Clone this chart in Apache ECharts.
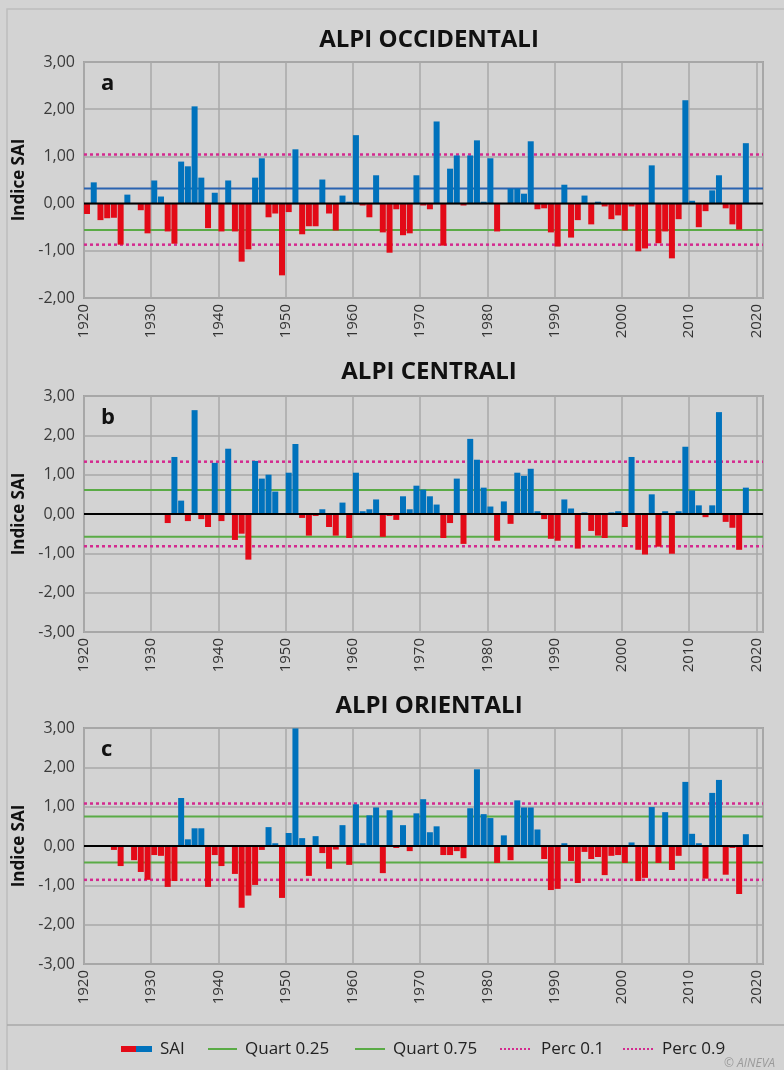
<!DOCTYPE html>
<html><head><meta charset="utf-8">
<script src="https://cdn.jsdelivr.net/npm/echarts@6/dist/echarts.min.js"></script>
<style>html,body{margin:0;padding:0;background:#d3d3d3}#c{width:784px;height:1070px}</style>
</head><body><div id="c"></div>
<script>
// seasons (start year of each bar)
const years = [1920,1921,1922,1923,1924,1925,1926,1927,1928,1929,
1930,1931,1932,1933,1934,1935,1936,1937,1938,1939,
1940,1941,1942,1943,1944,1945,1946,1947,1948,1949,
1950,1951,1952,1953,1954,1955,1956,1957,1958,1959,
1960,1961,1962,1963,1964,1965,1966,1967,1968,1969,
1970,1971,1972,1973,1974,1975,1976,1977,1978,1979,
1980,1981,1982,1983,1984,1985,1986,1987,1988,1989,
1990,1991,1992,1993,1994,1995,1996,1997,1998,1999,
2000,2001,2002,2003,2004,2005,2006,2007,2008,2009,
2010,2011,2012,2013,2014,2015,2016,2017,2018];

const saiOccidentali = [-0.22,0.45,-0.35,-0.31,-0.30,-0.87,0.19,0,-0.14,-0.63,
0.49,0.15,-0.59,-0.85,0.89,0.79,2.06,0.55,-0.52,0.23,
-0.59,0.49,-0.59,-1.23,-0.97,0.55,0.96,-0.29,-0.21,-1.52,
-0.18,1.15,-0.65,-0.48,-0.48,0.51,-0.21,-0.57,0.17,0.04,
1.45,-0.04,-0.29,0.60,-0.61,-1.04,-0.12,-0.67,-0.63,0.60,
-0.04,-0.12,1.74,-0.89,0.74,1.02,-0.04,1.02,1.34,0.04,
0.96,-0.59,0,0.32,0.32,0.21,1.32,-0.12,-0.10,-0.61,
-0.91,0.40,-0.72,-0.35,0.17,-0.44,0.04,-0.06,-0.33,-0.25,
-0.57,-0.06,-1.01,-0.95,0.81,-0.84,-0.59,-1.16,-0.33,2.19,
0.06,-0.50,-0.16,0.28,0.60,-0.10,-0.44,-0.55,1.28];

const saiCentrali = [null,null,null,null,null,null,null,null,null,null,
null,null,-0.23,1.45,0.34,-0.18,2.64,-0.13,-0.33,1.30,
-0.18,1.66,-0.66,-0.50,-1.16,1.35,0.90,1.00,0.57,-0.02,
1.05,1.78,-0.10,-0.55,-0.05,0.12,-0.33,-0.55,0.29,-0.61,
1.05,0.07,0.12,0.37,-0.58,-0.05,-0.15,0.45,0.12,0.72,
0.62,0.45,0.24,-0.61,-0.23,0.90,-0.76,1.91,1.38,0.67,
0.19,-0.68,0.32,-0.25,1.05,0.97,1.15,0.07,-0.13,-0.63,
-0.68,0.37,0.14,-0.88,0.04,-0.43,-0.55,-0.61,0.04,0.07,
-0.33,1.45,-0.91,-1.03,0.50,-0.83,0.07,-1.01,0.07,1.71,
0.60,0.22,-0.08,0.22,2.59,-0.20,-0.35,-0.91,0.67];

const saiOrientali = [null,null,null,null,-0.10,-0.51,0,-0.36,-0.66,-0.86,
-0.23,-0.25,-1.04,-0.89,1.22,0.17,0.45,0.45,-1.04,-0.23,
-0.51,0,-0.71,-1.57,-1.26,-0.99,-0.10,0.48,0.07,-1.32,
0.33,2.99,0.20,-0.76,0.25,-0.18,-0.58,-0.09,0.53,-0.48,
1.06,0.07,0.78,0.98,-0.69,0.91,-0.05,0.53,-0.13,0.83,
1.19,0.35,0.50,-0.23,-0.23,-0.13,-0.31,0.96,1.95,0.81,
0.71,-0.43,0.27,-0.36,1.16,0.98,0.98,0.42,-0.33,-1.12,
-1.09,0.07,-0.38,-0.94,-0.15,-0.33,-0.28,-0.74,-0.25,-0.23,
-0.43,0.09,-0.89,-0.81,0.99,-0.43,0.86,-0.61,-0.25,1.63,
0.31,0.07,-0.83,1.35,1.68,-0.73,-0.05,-1.22,0.30];

// reference levels: Quart 0.25, Quart 0.75, Perc 0.1, Perc 0.9
const refNames = ['Quart 0.25','Quart 0.75','Perc 0.1','Perc 0.9'];
const refOccidentali = [-0.56, 0.32, -0.87, 1.04];
const refCentrali = [-0.58, 0.61, -0.82, 1.33];
const refOrientali = [-0.42, 0.75, -0.86, 1.08];

const panelTitles = ['ALPI OCCIDENTALI','ALPI CENTRALI','ALPI ORIENTALI'];
const panelLetters = ['a','b','c'];
const yMins = [-2,-3,-3];
const yMaxs = [3,3,3];

const RED = '#e30a17', BLUE = '#0072bc', GREEN = '#5aab46', MAG = '#d42a8f';
const FONT = '"Open Sans", "Noto Sans", sans-serif';

const layout = [
  {top:62, h:236, titleTop:23, q75:'#2a63b0'},
  {top:396, h:236, titleTop:355, q75:GREEN},
  {top:728, h:236, titleTop:689, q75:GREEN}
];
const datasets = [saiOccidentali, saiCentrali, saiOrientali];
const refs = [refOccidentali, refCentrali, refOrientali];

const grid = [], xAxis = [], yAxis = [], series = [], title = [];
const fmt = v => v.toFixed(2).replace('.', ',');

layout.forEach((L, i) => {
  grid.push({left:84, right:21, top:L.top, height:L.h, show:true, borderColor:'#a2a2a2', borderWidth:2, backgroundColor:'transparent'});
  xAxis.push({type:'value', gridIndex:i, min:1920, max:2021, interval:10,
    axisLine:{show:false}, axisTick:{show:false},
    splitLine:{show:true, lineStyle:{color:'#a8a8a8', width:1.5}},
    axisLabel:{rotate:90, margin:6, showMaxLabel:false, color:'#333', fontSize:15, fontFamily:FONT,
      formatter: v => (v % 10 === 0 ? String(v) : '')}
  });
  yAxis.push({type:'value', gridIndex:i, min:yMins[i], max:yMaxs[i], interval:1,
    name:'Indice SAI', nameLocation:'middle', nameGap:47, nameRotate:90,
    nameTextStyle:{fontSize:17, fontWeight:'bold', color:'#111', fontFamily:FONT},
    axisLine:{show:false}, axisTick:{show:false},
    splitLine:{show:true, lineStyle:{color:'#a8a8a8', width:1.5}},
    axisLabel:{margin:9, color:'#3a3a3a', fontSize:16, fontFamily:FONT, formatter: fmt}
  });
  const r = refs[i];
  const refStyles = [
    {color:GREEN, width:2, type:'solid'},
    {color:L.q75, width:2, type:'solid'},
    {color:MAG, width:2.5, type:[3,3]},
    {color:MAG, width:2.5, type:[3,3]}
  ];
  r.forEach((v, j) => {
    series.push({type:'line', name:refNames[j], xAxisIndex:i, yAxisIndex:i, z:1,
      symbol:'none', silent:true, animation:false,
      lineStyle:refStyles[j], data:[[1920, v],[2021, v]]});
  });
  const d = [];
  datasets[i].forEach((v, j) => { if (v !== null) d.push([years[j] + 0.45, v]); });
  series.push({type:'bar', name:'SAI', xAxisIndex:i, yAxisIndex:i, z:3, barWidth:6, animation:false,
    itemStyle:{color: p => (p.value[1] >= 0 ? BLUE : RED)}, data:d});
  series.push({type:'line', xAxisIndex:i, yAxisIndex:i, z:5, symbol:'none', silent:true, animation:false,
    lineStyle:{color:'#000', width:2}, data:[[1920,0],[2021,0]]});
  title.push({text:panelTitles[i], left:424, top:L.titleTop, textAlign:'center',
    textStyle:{fontSize:24, fontWeight:'bold', color:'#111', fontFamily:FONT}});
  title.push({text:panelLetters[i], left:96, top:L.top + 6,
    textStyle:{fontSize:22, fontWeight:'bold', color:'#111', fontFamily:FONT}});
});

const ly = 1049;
const TS = {fontSize:17, fontFamily:FONT, fill:'#222', verticalAlign:'middle'};
const legendItems = [
  {type:'rect', shape:{x:121, y:ly-3, width:15, height:6}, style:{fill:RED}},
  {type:'rect', shape:{x:136, y:ly-3, width:16, height:6}, style:{fill:BLUE}},
  {type:'text', x:160, y:ly, style:Object.assign({text:'SAI'}, TS)},
  {type:'line', shape:{x1:208, y1:ly, x2:237, y2:ly}, style:{stroke:GREEN, lineWidth:2}},
  {type:'text', x:245, y:ly, style:Object.assign({text:refNames[0]}, TS)},
  {type:'line', shape:{x1:355, y1:ly, x2:385, y2:ly}, style:{stroke:GREEN, lineWidth:2}},
  {type:'text', x:393, y:ly, style:Object.assign({text:refNames[1]}, TS)},
  {type:'line', shape:{x1:500, y1:ly, x2:531, y2:ly}, style:{stroke:MAG, lineWidth:2, lineDash:[2,2]}},
  {type:'text', x:541, y:ly, style:Object.assign({text:refNames[2]}, TS)},
  {type:'line', shape:{x1:623, y1:ly, x2:653, y2:ly}, style:{stroke:MAG, lineWidth:2, lineDash:[2,2]}},
  {type:'text', x:662, y:ly, style:Object.assign({text:refNames[3]}, TS)},
  {type:'text', x:724, y:1064, style:{text:'© AINEVA', fontSize:12, fontStyle:'italic', fontFamily:FONT, fill:'#9a9a9a', verticalAlign:'middle'}}
];

const chart = echarts.init(document.getElementById('c'), null, {renderer:'canvas'});
chart.setOption({
  backgroundColor:'#d3d3d3',
  animation:false,
  title, grid, xAxis, yAxis, series,
  graphic:[
    {type:'rect', shape:{x:7, y:9, width:790, height:1080}, style:{fill:'none', stroke:'#bdbdbd', lineWidth:1.5}, silent:true},
    {type:'line', shape:{x1:7, y1:1025, x2:784, y2:1025}, style:{stroke:'#a8a8a8', lineWidth:1.5}, silent:true}
  ].concat(legendItems)
});
</script></body></html>
